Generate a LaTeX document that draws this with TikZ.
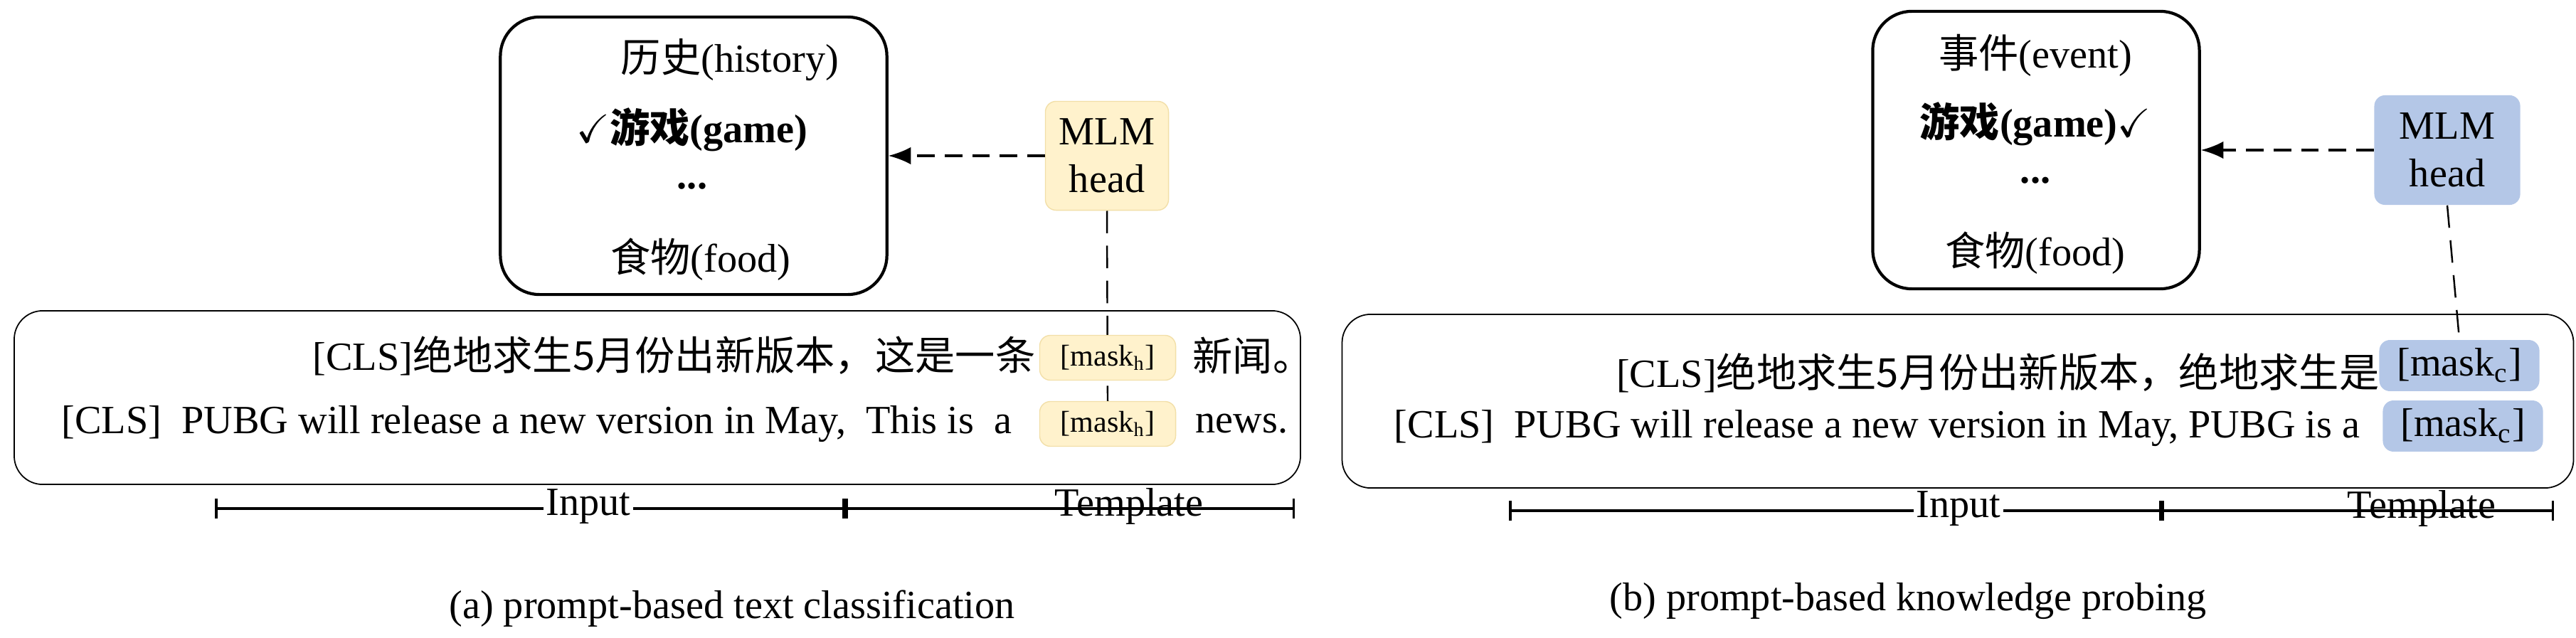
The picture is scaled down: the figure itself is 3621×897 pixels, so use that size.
\documentclass[tikz,border=0pt]{standalone}
\usepackage{fontspec}
\usepackage{amssymb}
\setmainfont{Liberation Serif}
\newfontfamily\cjk{Noto Sans CJK SC}
\usetikzlibrary{arrows.meta,backgrounds}
\definecolor{mlmyellow}{HTML}{FFF2CC}
\definecolor{mlmyellowline}{HTML}{F2DFA8}
\definecolor{mlmblue}{HTML}{B4C7E7}
\begin{document}
\begin{tikzpicture}[x=0.01cm,y=-0.01cm,
  txt/.style={font=\fontsize{16}{18}\selectfont,inner sep=0pt},
  labelbox/.style={draw,line width=1.2pt,rounded corners=0.55cm},
  textbox/.style={draw,line width=0.5pt,rounded corners=0.4cm},
  mlm/.style={rounded corners=0.15cm,align=center,font=\fontsize{16}{19}\selectfont},
  maskY/.style={fill=mlmyellow,draw=mlmyellowline,rounded corners=0.15cm,font=\fontsize{12}{14}\selectfont},
  maskB/.style={fill=mlmblue,rounded corners=0.15cm,font=\fontsize{16}{18}\selectfont},
  conn/.style={dashed,line width=0.9pt,dash pattern=on 7pt off 4pt},
  bar/.style={line width=1pt,{Bar[width=8pt]}-{Bar[width=8pt]}},
  barlabel/.style={fill=white,inner sep=1pt,font=\fontsize{16}{18}\selectfont}]
\useasboundingbox (0,0) rectangle (3621,897);

% ---------- (a) text classification
\node[labelbox,minimum width=5.43cm,minimum height=3.9cm] (la) at (975,219) {};
\node[txt] (la1) at (1026,84) {{\cjk 历史}(history)};
\node[txt,font=\fontsize{16}{18}\selectfont\bfseries] (la2) at (973,182) {$\checkmark${\cjk 游戏}(game)};
\node[txt,font=\fontsize{16}{18}\selectfont\bfseries] (la3) at (973,262) {...};
\node[txt] (la4) at (985,365) {{\cjk 食物}(food)};
\node[mlm,fill=mlmyellow,draw=mlmyellowline,minimum width=1.73cm,minimum height=1.53cm] (ma) at (1556,219) {MLM\\head};

\node[textbox,minimum width=18.07cm,minimum height=2.44cm] (ta) at (924,559) {};
\node[txt,anchor=east] (sa1) at (1456,500) {[CLS]{\cjk 绝地求生5月份出新版本，这是一条}};
\node[txt,anchor=east] (sa2) at (1423,596) {[CLS]\ \ PUBG will release a new version in May,\ \ This is\ \ a};
\node[maskY,minimum width=1.91cm,minimum height=0.63cm] (ka1) at (1557,503) {[mask\textsubscript{h}]};
\node[maskY,minimum width=1.91cm,minimum height=0.63cm] (ka2) at (1557,596) {[mask\textsubscript{h}]};
\node[txt,anchor=west] (ea1) at (1676,500) {\cjk 新闻。};
\node[txt,anchor=west] (ea2) at (1680,596) {news.};

\draw[conn,-{Latex[length=9pt,width=7pt]}] (ma.west) -- (la.east);
\begin{scope}[on background layer]
\draw[conn,dash pattern=on 9pt off 5pt,line width=0.7pt] (ma.south) -- (ka2.north);
\end{scope}

\coordinate (ba0) at (302,715);
\coordinate (ba1) at (1188,715);
\coordinate (ba2) at (1820,715);
\draw[bar] (ba0) -- (ba1);
\draw[bar] (ba1) -- (ba2);
\node[barlabel] (ina) at (827,712) {Input};
\node[barlabel,fill=none] (tpa) at (1587,712) {Template};
\node[txt] (capa) at (1029,856) {(a) prompt-based text classification};

% ---------- (b) knowledge probing
\node[labelbox,minimum width=4.59cm,minimum height=3.9cm] (lb) at (2862,211) {};
\node[txt] (lb1) at (2861,78) {{\cjk 事件}(event)};
\node[txt,font=\fontsize{16}{18}\selectfont\bfseries] (lb2) at (2861,174) {{\cjk 游戏}(game)$\checkmark$};
\node[txt,font=\fontsize{16}{18}\selectfont\bfseries] (lb3) at (2861,254) {...};
\node[txt] (lb4) at (2861,356) {{\cjk 食物}(food)};
\node[mlm,fill=mlmblue,minimum width=2.05cm,minimum height=1.54cm] (mb) at (3440,211) {MLM\\head};

\node[textbox,minimum width=17.3cm,minimum height=2.44cm] (tb) at (2752,564) {};
\node[txt,anchor=east] (sb1) at (3345,524) {[CLS]{\cjk 绝地求生5月份出新版本，绝地求生是}};
\node[txt,anchor=east] (sb2) at (3318,602) {[CLS]\ \ PUBG will release a new version in May, PUBG is a};
\node[maskB,minimum width=2.25cm,minimum height=0.66cm] (kb1) at (3457,514) {[mask\textsubscript{c}]};
\node[maskB,minimum width=2.25cm,minimum height=0.66cm] (kb2) at (3462,599) {[mask\textsubscript{c}]};

\draw[conn,-{Latex[length=9pt,width=7pt]}] (mb.west) -- (lb.east);
\draw[conn,dash pattern=on 9pt off 5pt,line width=0.7pt] (mb.south) -- (kb1.north);

\coordinate (bb0) at (2121,718);
\coordinate (bb1) at (3038,718);
\coordinate (bb2) at (3590,718);
\draw[bar] (bb0) -- (bb1);
\draw[bar] (bb1) -- (bb2);
\node[barlabel] (inb) at (2753,715) {Input};
\node[barlabel,fill=none] (tpb) at (3404,715) {Template};
\node[txt] (capb) at (2682,845) {(b) prompt-based knowledge probing};
\end{tikzpicture}
\end{document}
